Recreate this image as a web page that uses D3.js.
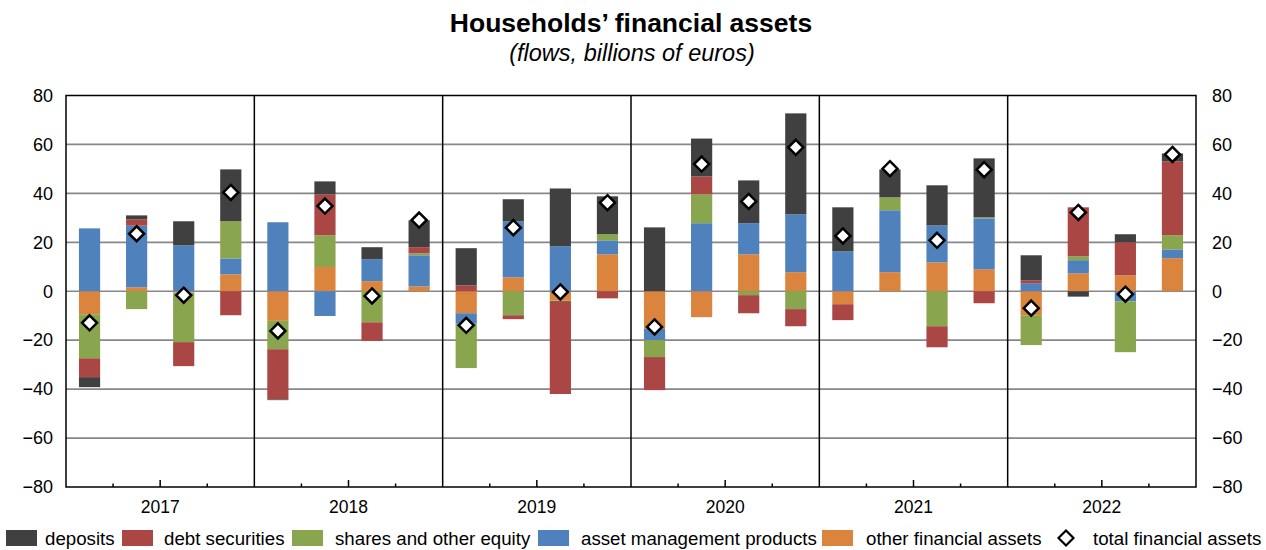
<!DOCTYPE html>
<html><head><meta charset="utf-8">
<script src="https://cdn.jsdelivr.net/npm/d3@7"></script>
<style>body{margin:0;background:#fff;font-family:"Liberation Sans",Arial,sans-serif;}</style>
</head><body><svg id="c" width="1266" height="550"></svg>
<script>
const years = ["2017","2018","2019","2020","2021","2022"];
const quarters = years.flatMap(y => ["Q1","Q2","Q3","Q4"].map(q => y + q));
const deposits = [-4.1, 1.6, 9.8, 21.2, -0.3, 5.3, 4.9, 11, 15.2, 9, 23.6, 15.5, 26.1, 15.5, 17.5, 41.3, 18, 11.4, 16.4, 24.1, 10.2, -2.2, 3.3, 3.2];
const debtSecurities = [-7.7, 2.6, -9.8, -9.8, -20.5, 16.7, -7.6, 2.5, 2.4, -1.6, -38, -2.9, -13.5, 7.3, -7.4, -7, -6.5, 0, -8.6, -4.9, 1.2, 20, 13.5, 30.2];
const sharesEquity = [-18, -7.3, -20.3, 15.2, -11.6, 13, -12.7, 0.8, -18.1, -9.8, -0.3, 2.5, -6.9, 11.8, -1.6, -7.3, 0, 5.3, -14.3, 0.4, -12.2, 1.6, -20.8, 5.8];
const assetMgmt = [25.7, 25.2, 18.8, 6.5, 28.2, -10.1, 9, 12.7, -4.3, 22.9, 18.4, 5.7, -4.6, 27.8, 12.7, 23.6, 16.3, 25.3, 15.1, 20.8, 3.3, 5.4, -4.1, 3.6];
const otherAssets = [-9.4, 1.6, -0.5, 6.9, -12.1, 9.9, 4.1, 2, -9, 5.7, -3.7, 15.1, -15.4, -10.6, 15.1, 7.8, -5.3, 7.8, 11.8, 9, -9.8, 7.3, 6.5, 13.5];
const totalAssets = [-12.9, 23.5, -1.6, 40.4, -16.2, 34.8, -1.9, 29.1, -13.9, 26, -0.3, 36.2, -14.6, 52, 36.7, 58.8, 22.6, 50.1, 20.8, 49.7, -6.9, 32.2, -1.2, 55.9];
const yTicks = [-80, -60, -40, -20, 0, 20, 40, 60, 80];

const series = [
  {key:"deposits", label:"deposits", color:"#404040", values:deposits},
  {key:"debt", label:"debt securities", color:"#AA4643", values:debtSecurities},
  {key:"shares", label:"shares and other equity", color:"#89A54E", values:sharesEquity},
  {key:"amp", label:"asset management products", color:"#4F81BD", values:assetMgmt},
  {key:"other", label:"other financial assets", color:"#DB843D", values:otherAssets}
];
const table = quarters.map((q,i) => {
  const r = {q};
  series.forEach(s => r[s.key] = s.values[i]);
  r.total = totalAssets[i];
  return r;
});
const stackKeys = ["other","amp","shares","debt","deposits"];
const colorOf = Object.fromEntries(series.map(s => [s.key, s.color]));
const stacked = d3.stack().keys(stackKeys).offset(d3.stackOffsetDiverging)(table);

const svg = d3.select("#c");
const L = 66, R = 1196, T = 95.5, B = 487;
const x = d3.scaleBand().domain(quarters).range([L, R]).paddingInner(0.55).paddingOuter(0.275);
const xYear = d3.scaleBand().domain(years).range([L, R]);
const y = d3.scaleLinear().domain([-80, 80]).range([B, T]);

// title
svg.append("text").attr("x", 631).attr("y", 32).attr("text-anchor","middle")
  .attr("font-size", 26.5).attr("font-weight","bold").text("Households\u2019 financial assets");
svg.append("text").attr("x", 632).attr("y", 61).attr("text-anchor","middle")
  .attr("font-size", 23.5).attr("font-style","italic").text("(flows, billions of euros)");

// gridlines
svg.append("g").selectAll("line").data(yTicks.filter(v => v > -80 && v < 80)).join("line")
  .attr("x1", L).attr("x2", R).attr("y1", d => y(d)).attr("y2", d => y(d))
  .attr("stroke", "#878787").attr("stroke-width", 1.7);

// year separators
svg.append("g").selectAll("line").data(years.slice(1)).join("line")
  .attr("x1", d => xYear(d)).attr("x2", d => xYear(d)).attr("y1", T).attr("y2", B)
  .attr("stroke", "#000").attr("stroke-width", 1.5);

// bars
svg.append("g").selectAll("g").data(stacked).join("g").attr("fill", d => colorOf[d.key])
  .selectAll("rect").data(d => d).join("rect")
  .attr("x", d => x(d.data.q)).attr("width", x.bandwidth())
  .attr("y", d => y(Math.max(d[0], d[1]))).attr("height", d => Math.abs(y(d[0]) - y(d[1])));

// frame
svg.append("rect").attr("x", L).attr("y", T).attr("width", R - L).attr("height", B - T)
  .attr("fill","none").attr("stroke","#000").attr("stroke-width",1.5);

// axes
const fmt = d => d < 0 ? "\u2212" + Math.abs(d) : d;
const yl = d3.axisLeft(y).tickValues(yTicks).tickSize(0).tickPadding(13).tickFormat(fmt);
const yr = d3.axisRight(y).tickValues(yTicks).tickSize(0).tickPadding(16).tickFormat(fmt);
const gl = svg.append("g").attr("transform", `translate(${L},0)`).call(yl);
const gr = svg.append("g").attr("transform", `translate(${R},0)`).call(yr);
[gl, gr].forEach(g => { g.select(".domain").remove(); g.selectAll("text").attr("font-size", 18).attr("font-family","Liberation Sans, Arial, sans-serif").attr("fill","#000"); });

// x ticks (quarter boundaries inside)
const qStep = (R - L) / quarters.length;
const tickData = d3.range(1, quarters.length).filter(i => i % 4 !== 0);
svg.append("g").selectAll("line").data(tickData).join("line")
  .attr("x1", i => L + i * qStep).attr("x2", i => L + i * qStep)
  .attr("y1", B).attr("y2", i => B - (i % 2 === 0 ? 7 : 3.5))
  .attr("stroke","#000").attr("stroke-width",1.5);
const xa = d3.axisBottom(xYear).tickSize(0).tickPadding(14);
const gx = svg.append("g").attr("transform", `translate(0,${B})`).call(xa);
gx.select(".domain").remove();
gx.selectAll("text").attr("font-size", 17.5).attr("font-family","Liberation Sans, Arial, sans-serif").attr("fill","#000");

// diamonds
const dr = 7.5;
svg.append("g").selectAll("path").data(table).join("path")
  .attr("d", d => { const cx = x(d.q) + x.bandwidth()/2, cy = y(d.total); return `M${cx},${cy-dr}L${cx+dr},${cy}L${cx},${cy+dr}L${cx-dr},${cy}Z`; })
  .attr("fill","#fff").attr("stroke","#000").attr("stroke-width",2.5);

// legend
const lg = svg.append("g").attr("font-size", 18.7);
const swX = [6, 122, 292, 538, 822];
const txX = [45, 164, 335, 581, 866];
const ly = 530;
series.forEach((s, i) => {
  lg.append("rect").attr("x", swX[i]).attr("y", ly).attr("width", 31).attr("height", 16).attr("fill", s.color);
  lg.append("text").attr("x", txX[i]).attr("y", ly + 14.5).text(s.label);
});
const dcx = 1066, dcy = ly + 8;
lg.append("path").attr("d", `M${dcx},${dcy-dr}L${dcx+dr},${dcy}L${dcx},${dcy+dr}L${dcx-dr},${dcy}Z`)
  .attr("fill","#fff").attr("stroke","#000").attr("stroke-width",2.2);
lg.append("text").attr("x", 1093).attr("y", ly + 14.5).text("total financial assets");
</script></body></html>
